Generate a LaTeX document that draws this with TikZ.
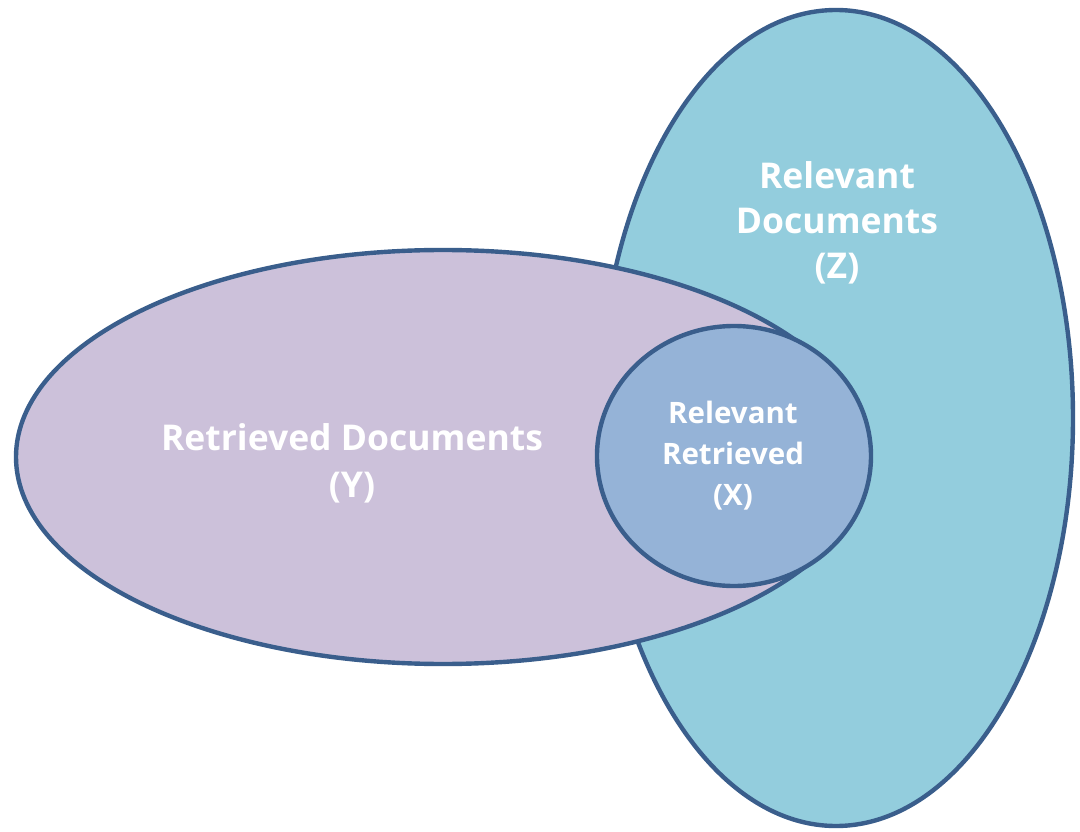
\documentclass[tikz,border=0pt]{standalone}
\usepackage{fontspec}
\setmainfont{Open Sans}
\usetikzlibrary{shapes.geometric}
\definecolor{relfill}{HTML}{93CDDD}
\definecolor{retfill}{HTML}{CCC1DA}
\definecolor{bothfill}{HTML}{95B3D7}
\definecolor{edge}{HTML}{3A5E8C}
\tikzset{
  setshape/.style={ellipse, draw=edge, line width=4.4pt, inner sep=0pt, outer sep=0pt},
  setlabel/.style 2 args={text=white, align=center, font=\bfseries\fontsize{#1}{#2}\selectfont, inner sep=0pt},
}
\begin{document}
\begin{tikzpicture}[x=1pt, y=-1pt]
  \useasboundingbox[fill=white] (0,0) rectangle (1080,832);
  % relevant documents
  \node[setshape, fill=relfill, minimum width=474pt, minimum height=816pt] (Z) at (836,418) {};
  % retrieved documents
  \node[setshape, fill=retfill, minimum width=854pt, minimum height=414pt] (Y) at (443,457) {};
  % intersection
  \node[setshape, fill=bothfill, minimum width=274pt, minimum height=260pt] (X) at (734,456) {};
  % labels
  \node[setlabel={35.5}{45}] (Zlab) at (837,223) {Relevant\\Documents\\(Z)};
  \node[setlabel={35.5}{47}] (Ylab) at (352,463) {Retrieved Documents\\(Y)};
  \node[setlabel={29.5}{41}] (Xlab) at (733,456) {Relevant\\Retrieved\\(X)};
\end{tikzpicture}
\end{document}
